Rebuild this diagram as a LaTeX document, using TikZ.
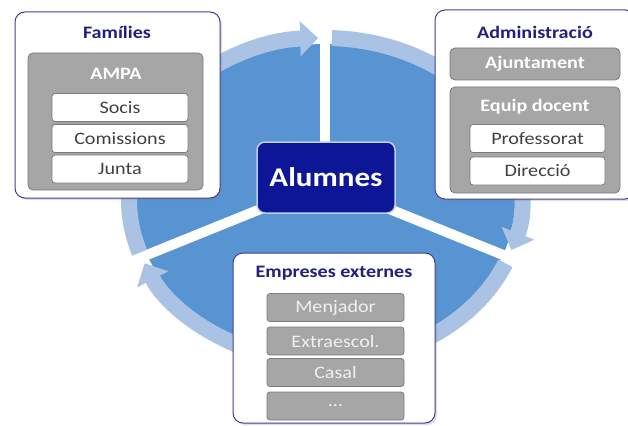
\documentclass[tikz,border=0pt]{standalone}
\usepackage{fontspec}
\setmainfont{Carlito}[FakeStretch=1.15]
\usetikzlibrary{arrows.meta,shadows}

\definecolor{discblue}{RGB}{88,148,210}
\definecolor{ringblue}{RGB}{170,195,228}
\definecolor{boxedge}{RGB}{64,64,150}
\definecolor{titleblue}{RGB}{32,32,128}
\definecolor{greyfill}{RGB}{166,166,166}
\definecolor{greyedge}{RGB}{120,122,132}
\definecolor{itemtext}{RGB}{64,64,64}
\definecolor{alumnesfill}{RGB}{12,22,150}
\definecolor{alumnesedge}{RGB}{190,205,235}

\newcommand{\itemfont}{\fontsize{17.5}{20}\selectfont}
\newcommand{\grouptitlefont}{\fontsize{17.5}{20}\selectfont\bfseries}
\newcommand{\centerfont}{\fontsize{27}{30}\selectfont\bfseries}

\begin{document}
\begin{tikzpicture}[x=1pt,y=-1pt]
	\tikzstyle{every node}=[inner sep=0pt, font=\itemfont]
	\tikzstyle{gapline}=[white, line width=10pt]
	\tikzstyle{ringarrow}=[ringblue, line width=16pt, -{Triangle[width=34pt,length=18pt]}]
	\tikzstyle{groupbox}=[draw=boxedge, fill=white, line width=1pt, rounded corners=10pt,
		drop shadow={shadow xshift=2pt, shadow yshift=-2pt, opacity=.25}]
	\tikzstyle{grouptitle}=[text=titleblue, font=\grouptitlefont]
	\tikzstyle{greybox}=[draw=greyedge, fill=greyfill, line width=0.8pt, rounded corners=5pt]
	\tikzstyle{greytitle}=[text=white, font=\grouptitlefont]
	\tikzstyle{itembox}=[draw=greyedge, fill=white, line width=0.8pt, rounded corners=3pt,
		text=itemtext, minimum width=136, minimum height=28]
	\tikzstyle{greyitem}=[greybox, rounded corners=3pt, text=white!94!black,
		minimum width=137, minimum height=28]

	\useasboundingbox (0,0) rectangle (628,425);

	%%disc and cycle
	\coordinate (ctr) at (325,200);
	\coordinate (hub) at (325,183);
	\fill [discblue] (ctr) ellipse [x radius=190, y radius=156];
	\draw [gapline] (hub) -- ++(0,-200);
	\draw [gapline] (hub) -- ++(-250,101);
	\draw [gapline] (hub) -- ++(250,101);
	\draw [ringarrow] (ctr) ++(161:196 and 162) arc [start angle=161, end angle=268, x radius=196, y radius=162];
	\draw [ringarrow] (ctr) ++(272:196 and 162) arc [start angle=272, end angle=378, x radius=196, y radius=162];
	\draw [ringarrow] (ctr) ++(23:196 and 162) arc [start angle=23, end angle=157, x radius=196, y radius=162];

	%%Famílies
	\node [groupbox, minimum width=205, minimum height=186] (fam) at (117.5,105) {};
	\node [grouptitle] (famtitle) at (117,32) {Famílies};
	\node [greybox, minimum width=175, minimum height=137] (ampa) at (115.5,121.5) {};
	\node [greytitle] (ampatitle) at (116,74) {AMPA};
	\node [itembox] (socis) at (120,107.5) {Socis};
	\node [itembox] (comissions) at (120,138.5) {Comissions};
	\node [itembox] (junta) at (120,169) {Junta};

	%%Administració
	\node [groupbox, minimum width=200, minimum height=189] (admin) at (535,104.5) {};
	\node [grouptitle] (admintitle) at (535,32) {Administració};
	\node [greybox, greytitle, minimum width=170, minimum height=32] (ajuntament) at (535,64) {Ajuntament};
	\node [greybox, minimum width=170, minimum height=106] (equip) at (535,140) {};
	\node [greytitle] (equiptitle) at (535,107) {Equip docent};
	\node [itembox, minimum width=135] (professorat) at (537.5,138.5) {Professorat};
	\node [itembox, minimum width=135] (direccio) at (537.5,171) {Direcció};

	%%Empreses externes
	\node [groupbox, minimum width=202, minimum height=170] (empreses) at (334,338) {};
	\node [grouptitle] (emptitle) at (334,273) {Empreses externes};
	\node [greyitem] (menjador) at (335.5,307.5) {Menjador};
	\node [greyitem] (extraescol) at (335.5,341) {Extraescol.};
	\node [greyitem] (casal) at (335.5,372.5) {Casal};
	\node [greyitem] (altres) at (335.5,406) {...};

	%%Alumnes
	\node [draw=alumnesedge, fill=alumnesfill, line width=1.5pt, rounded corners=8pt,
		text=white, font=\centerfont, minimum width=138, minimum height=71] (alumnes) at (326,177.5) {Alumnes};

\end{tikzpicture}
\end{document}
